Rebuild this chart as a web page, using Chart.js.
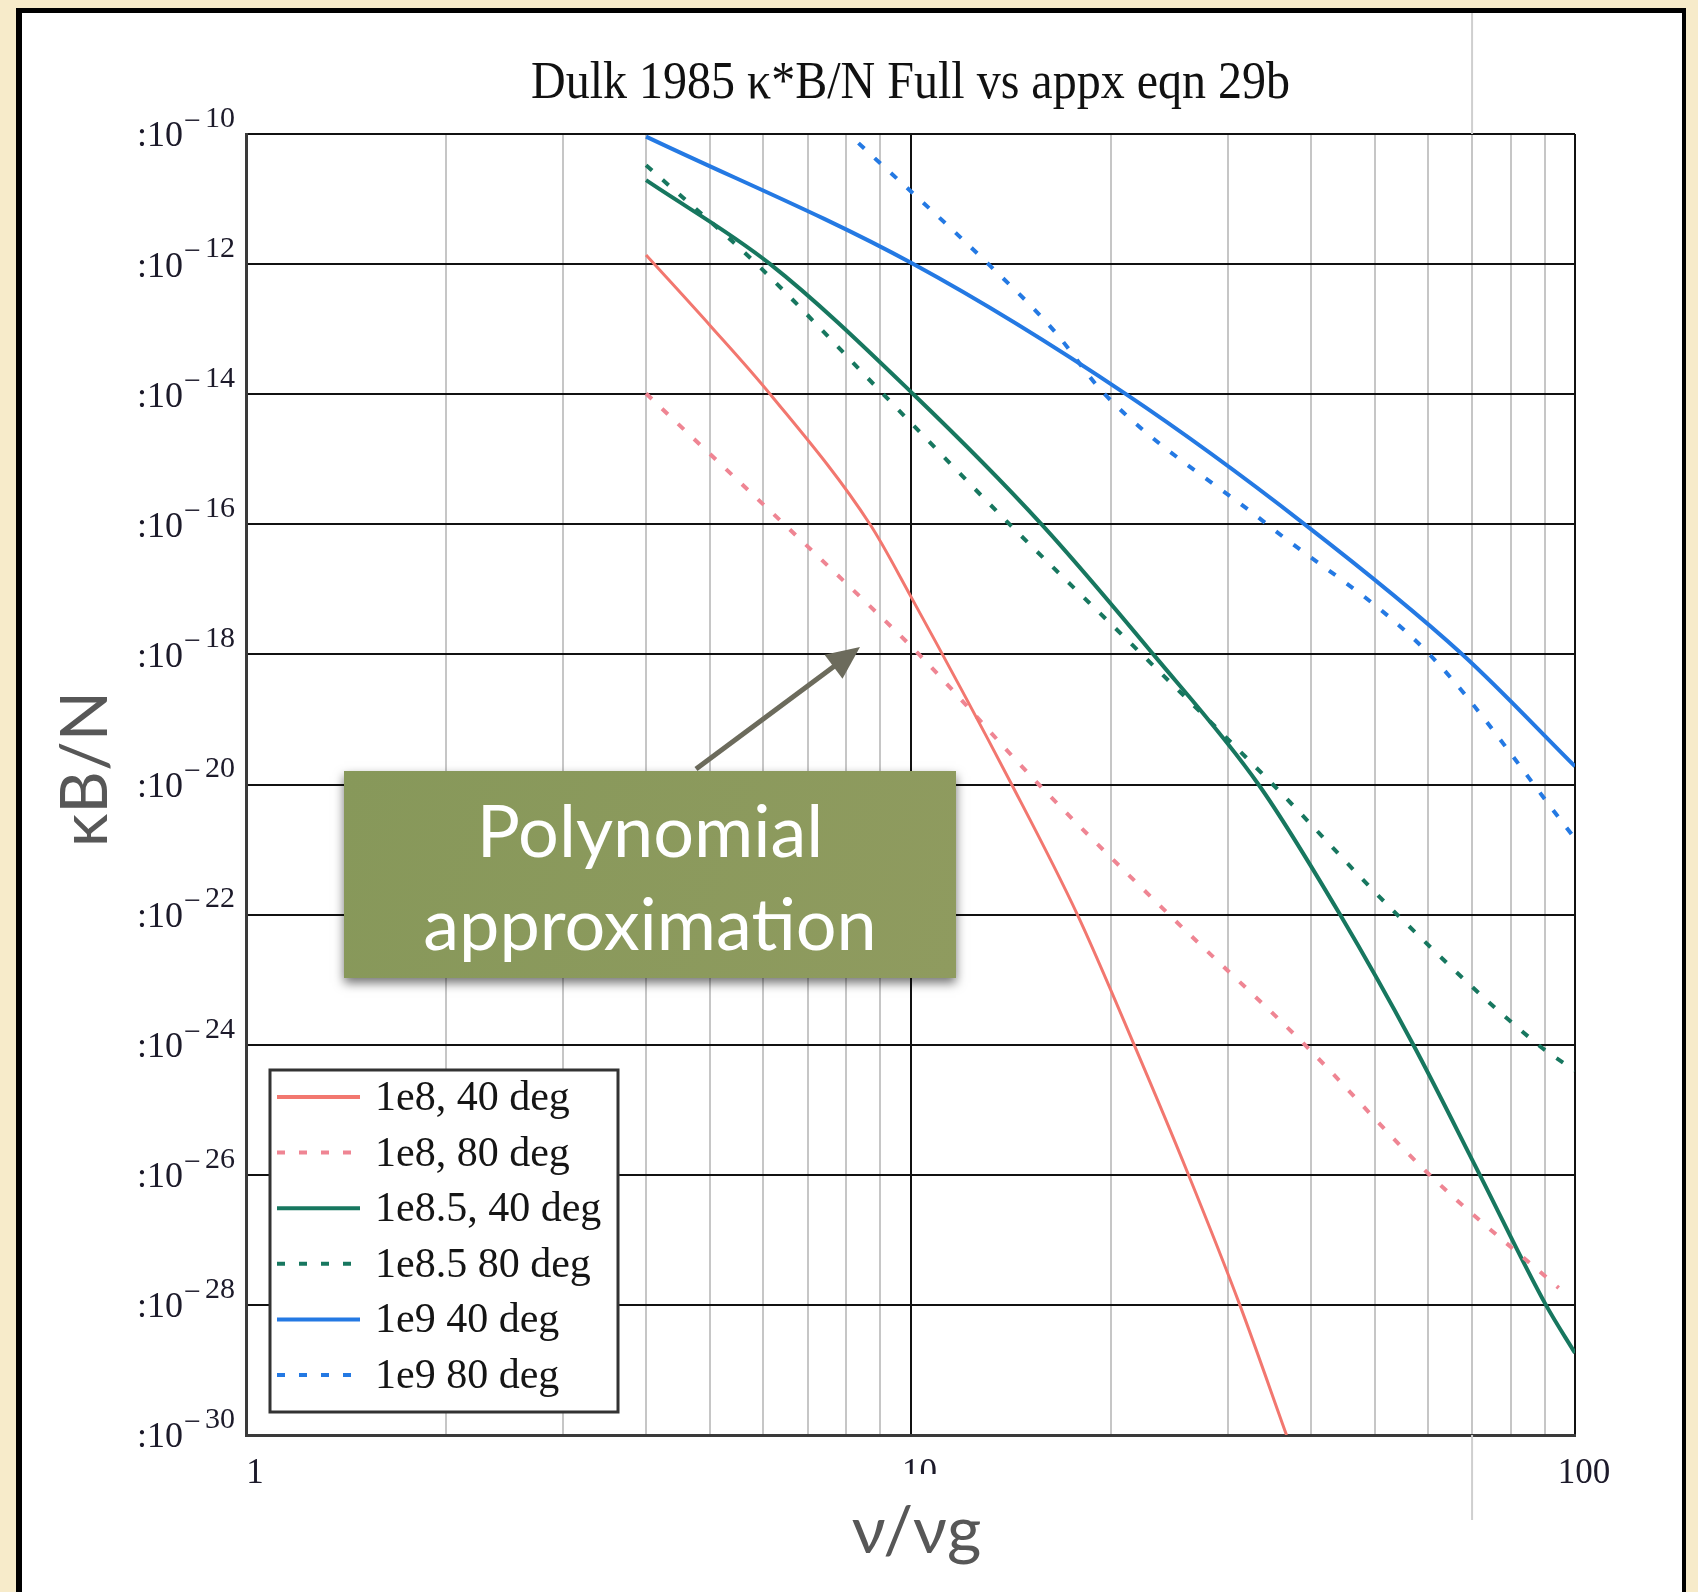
<!DOCTYPE html>
<html>
<head>
<meta charset="utf-8">
<script src="https://cdn.jsdelivr.net/npm/chart.js@4.4.0/dist/chart.umd.min.js"></script>
<style>
  html, body { margin: 0; padding: 0; }
  body { width: 1698px; height: 1592px; background: #f7ebca; position: relative; overflow: hidden; }
  #sheet {
    position: absolute; left: 16px; top: 8px; width: 1670px; height: 1600px;
    background: #fff; border: solid #000; border-width: 5px 4px 0 6px; box-sizing: border-box;
  }
  #wrap { position: absolute; left: 0; top: 0; width: 1698px; height: 1592px; }
</style>
</head>
<body>
<div id="sheet"></div>
<div id="wrap"><canvas id="plot"></canvas></div>
<script>
// frequency ratio ν/νg for each curve, and log10(κB/N) at those points
var nu8_40   = [4, 5, 6.15, 8.69, 10, 14.2, 17.83, 21.7, 26.2, 31.3, 36.8];
var exp8_40  = [-11.86, -12.95, -14, -16, -17.1, -20, -22, -24, -26, -28, -30];

var nu8_80   = [4, 8.49, 10.3, 15.6, 24.5, 39.2, 60.4, 94.5];
var exp8_80  = [-13.99, -17.16, -18, -20, -22, -24, -26, -27.74];

var nu85_40  = [4, 6.15, 10.1, 15.75, 23.2, 33.4, 44.3, 57.1, 71.9, 90.4, 100];
var exp85_40 = [-10.71, -12, -14, -16, -18, -20, -22, -24, -26, -28, -28.74];

var nu85_80  = [4, 5.87, 9.1, 14.1, 22.3, 35.1, 54, 88, 100];
var exp85_80 = [-10.48, -12, -14, -16, -18, -20, -22, -24, -24.4];

var nu9_40   = [4, 10.1, 21.1, 39.2, 67.7, 100];
var exp9_40  = [-10.04, -12, -14, -16, -18, -19.72];

var nu9_80   = [8.35, 13.1, 16.4, 19.6, 34.4, 60.4, 100];
var exp9_80  = [-10.14, -12, -13.01, -14, -16, -18, -20.83];

var seriesNames = ["1e8, 40 deg", "1e8, 80 deg", "1e8.5, 40 deg", "1e8.5 80 deg", "1e9 40 deg", "1e9 80 deg"];
var seriesColors = ["#f2776f", "#ef8593", "#17775f", "#17775f", "#2479e3", "#2479e3"];

var xTicks = [1, 2, 3, 4, 5, 6, 7, 8, 9, 10, 20, 30, 40, 50, 60, 70, 80, 90, 100];
var xLabels = [1, 10, 100];
var yExps = [-10, -12, -14, -16, -18, -20, -22, -24, -26, -28, -30];

function points(nu, ex) {
    return nu.map(function (v, i) { return {x: v, y: Math.pow(10, ex[i])}; });
}

function line(k, nu, ex, dashed, width) {
    return {
        label: seriesNames[k],
        data: points(nu, ex),
        borderColor: seriesColors[k],
        borderWidth: width,
        borderDash: dashed ? [8, 14] : [],
        pointRadius: 0,
        cubicInterpolationMode: "monotone",
        fill: false
    };
}

var serif = '"Liberation Serif", "Times New Roman", serif';
var sans = 'Lato, "Open Sans", sans-serif';

// axis labels, legend, callout and tick labels drawn over the plot
var decor = {
    id: "decor",
    afterDraw: function (chart) {
        var ctx = chart.ctx, a = chart.chartArea;
        var xs = chart.scales.x, ys = chart.scales.y;
        ctx.save();

        // stray grey rule continuing the 70 gridline
        var x70 = xs.getPixelForValue(70);
        ctx.strokeStyle = "#cfcfcf";
        ctx.lineWidth = 2;
        ctx.beginPath();
        ctx.moveTo(x70, 13); ctx.lineTo(x70, a.top);
        ctx.moveTo(x70, a.bottom); ctx.lineTo(x70, 1520);
        ctx.stroke();

        // title
        ctx.fillStyle = "#111";
        ctx.textAlign = "center";
        ctx.textBaseline = "middle";
        ctx.font = "48px " + serif;
        ctx.save();
        ctx.translate(xs.getPixelForValue(10), 84);
        ctx.scale(1, 1.1);
        ctx.fillText("Dulk 1985 \u03ba*B/N Full vs appx eqn 29b", 0, 0);
        ctx.restore();

        // y tick labels as 10 with a superscript exponent
        ctx.textAlign = "left";
        yExps.forEach(function (e) {
            var py = ys.getPixelForValue(Math.pow(10, e));
            ctx.fillStyle = "#1c1a2a";
            ctx.font = "36px " + serif;
            ctx.fillText(":10", 137, py + 3);
            ctx.font = "30px " + serif;
            ctx.fillText("\u2212", 184, py - 12);
            ctx.fillText(String(-e), 205, py - 15);
        });

        // x tick labels
        ctx.textAlign = "center";
        ctx.font = "35px " + serif;
        xLabels.forEach(function (v) {
            var px = xs.getPixelForValue(v) + 9;
            ctx.save();
            if (v === 10) {
                ctx.beginPath();
                ctx.rect(px - 40, 1440, 80, 34);
                ctx.clip();
            }
            ctx.fillText(String(v), px, 1474);
            ctx.restore();
        });

        // axis titles
        ctx.fillStyle = "#575757";
        ctx.font = "66px " + sans;
        ctx.fillText("\u03bd/\u03bdg", xs.getPixelForValue(10) + 6, 1532);
        ctx.save();
        ctx.translate(86, 769);
        ctx.rotate(-Math.PI / 2);
        ctx.fillText("\u03baB/N", 0, 0);
        ctx.restore();

        // legend
        var lx = 270, ly = 1070, lw = 348, lh = 342;
        ctx.fillStyle = "#fff";
        ctx.fillRect(lx, ly, lw, lh);
        ctx.strokeStyle = "#333";
        ctx.lineWidth = 3;
        ctx.strokeRect(lx, ly, lw, lh);
        ctx.textAlign = "left";
        ctx.font = "42px " + serif;
        chart.data.datasets.forEach(function (ds, i) {
            var ry = 1097 + i * 55.6;
            ctx.strokeStyle = ds.borderColor;
            ctx.lineWidth = 4;
            ctx.setLineDash(ds.borderDash);
            ctx.beginPath();
            ctx.moveTo(277, ry); ctx.lineTo(360, ry);
            ctx.stroke();
            ctx.setLineDash([]);
            ctx.fillStyle = "#151515";
            ctx.fillText(ds.label, 375, ry + 2);
        });

        // callout arrow
        var ax0 = 696, ay0 = 769, ax1 = 860, ay1 = 647;
        var ang = Math.atan2(ay1 - ay0, ax1 - ax0);
        ctx.strokeStyle = "#6c6b5c";
        ctx.fillStyle = "#6c6b5c";
        ctx.lineWidth = 5;
        ctx.beginPath();
        ctx.moveTo(ax0, ay0);
        ctx.lineTo(ax1 - 20 * Math.cos(ang), ay1 - 20 * Math.sin(ang));
        ctx.stroke();
        ctx.beginPath();
        ctx.moveTo(ax1, ay1);
        ctx.lineTo(ax1 - 33 * Math.cos(ang) + 15 * Math.sin(ang), ay1 - 33 * Math.sin(ang) - 15 * Math.cos(ang));
        ctx.lineTo(ax1 - 33 * Math.cos(ang) - 15 * Math.sin(ang), ay1 - 33 * Math.sin(ang) + 15 * Math.cos(ang));
        ctx.closePath();
        ctx.fill();

        // callout box
        var bx = 344, by = 771, bw = 612, bh = 207;
        ctx.save();
        ctx.shadowColor = "rgba(0,0,0,0.55)";
        ctx.shadowBlur = 10;
        ctx.shadowOffsetY = 5;
        var g = ctx.createLinearGradient(bx, by, bx + bw, by + bh);
        g.addColorStop(0, "#87985a");
        g.addColorStop(1, "#8f9b5f");
        ctx.fillStyle = g;
        ctx.fillRect(bx, by, bw, bh);
        ctx.restore();
        ctx.fillStyle = "#fff";
        ctx.textAlign = "center";
        ctx.textBaseline = "alphabetic";
        ctx.font = "72px " + sans;
        ctx.fillText("Polynomial", bx + bw / 2, 857);
        ctx.fillText("approximation", bx + bw / 2, 950);

        ctx.restore();
    }
};

function gridColour(c) {
    var lg = Math.log10(c.tick.value);
    return Math.abs(lg - Math.round(lg)) < 1e-9 ? "#111" : "#c6c6c6";
}

new Chart(document.getElementById("plot"), {
    type: "line",
    data: {
        datasets: [
            line(0, nu8_40, exp8_40, false, 3),
            line(1, nu8_80, exp8_80, true, 4),
            line(2, nu85_40, exp85_40, false, 4),
            line(3, nu85_80, exp85_80, true, 4),
            line(4, nu9_40, exp9_40, false, 4),
            line(5, nu9_80, exp9_80, true, 4)
        ]
    },
    options: {
        responsive: true,
        maintainAspectRatio: false,
        animation: false,
        layout: {padding: {left: 246, top: 134, right: 123, bottom: 157}},
        plugins: {legend: {display: false}, tooltip: {enabled: false}},
        scales: {
            x: {
                type: "logarithmic",
                min: 1, max: 100,
                afterBuildTicks: function (s) { s.ticks = xTicks.map(function (v) { return {value: v}; }); },
                ticks: {display: false},
                grid: {color: gridColour, lineWidth: 2, drawTicks: false},
                border: {color: "#3a3a3a", width: 3}
            },
            y: {
                type: "logarithmic",
                min: 1e-30, max: 1e-10,
                afterBuildTicks: function (s) { s.ticks = yExps.map(function (e) { return {value: Math.pow(10, e)}; }); },
                ticks: {display: false},
                grid: {color: "#111", lineWidth: 2, drawTicks: false},
                border: {color: "#3a3a3a", width: 3}
            }
        }
    },
    plugins: [decor]
});
</script>
</body>
</html>
